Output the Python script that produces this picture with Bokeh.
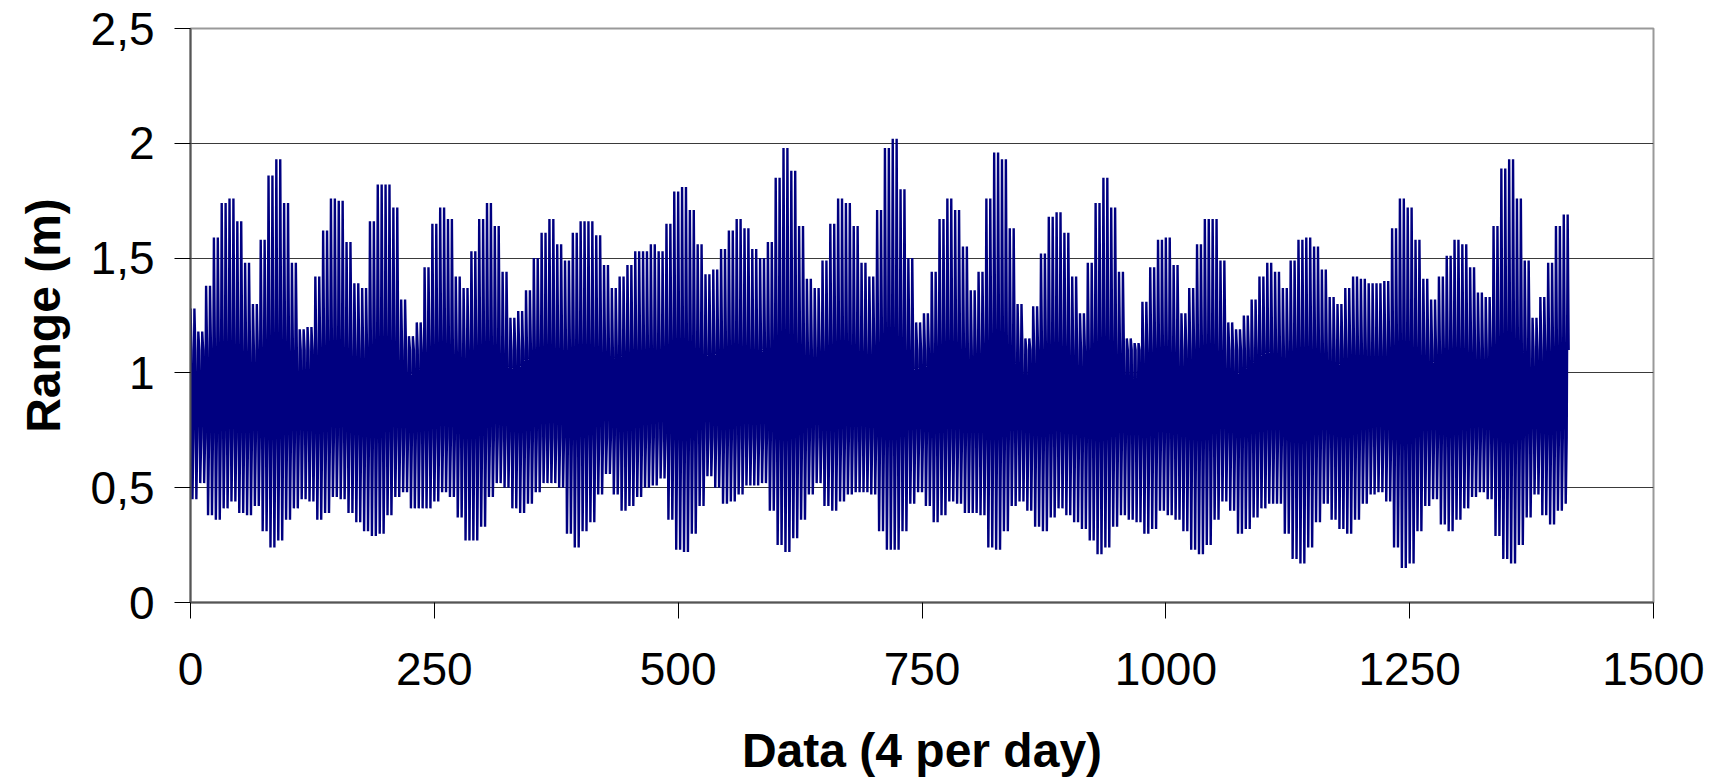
from bokeh.plotting import figure
from bokeh.models import FixedTicker, Range1d
from bokeh.embed import file_html
from bokeh.resources import INLINE

# Upper envelope (largest range) and lower envelope (smallest range), one value per 2-day block (8 data points)
upper = [
    1.28, 1.18, 1.38, 1.59, 1.74, 1.76, 1.66, 1.48, 1.30, 1.58,
    1.86, 1.93, 1.74, 1.48, 1.19, 1.20, 1.42, 1.62, 1.76, 1.75,
    1.57, 1.39, 1.37, 1.66, 1.82, 1.82, 1.72, 1.32, 1.16, 1.22,
    1.46, 1.65, 1.72, 1.67, 1.42, 1.37, 1.53, 1.67, 1.74, 1.64,
    1.44, 1.24, 1.27, 1.36, 1.50, 1.61, 1.67, 1.56, 1.49, 1.61,
    1.66, 1.66, 1.60, 1.47, 1.37, 1.42, 1.47, 1.53, 1.53, 1.56,
    1.53, 1.65, 1.79, 1.81, 1.71, 1.56, 1.43, 1.45, 1.54, 1.62,
    1.67, 1.63, 1.54, 1.50, 1.57, 1.85, 1.98, 1.88, 1.64, 1.41,
    1.37, 1.49, 1.65, 1.76, 1.74, 1.64, 1.48, 1.42, 1.71, 1.98,
    2.02, 1.80, 1.50, 1.22, 1.26, 1.44, 1.67, 1.76, 1.71, 1.55,
    1.36, 1.44, 1.76, 1.96, 1.93, 1.63, 1.30, 1.15, 1.29, 1.52,
    1.68, 1.70, 1.61, 1.42, 1.26, 1.48, 1.74, 1.85, 1.72, 1.44,
    1.15, 1.13, 1.31, 1.46, 1.58, 1.59, 1.47, 1.26, 1.37, 1.56,
    1.67, 1.67, 1.49, 1.22, 1.19, 1.25, 1.32, 1.42, 1.48, 1.44,
    1.37, 1.49, 1.58, 1.59, 1.55, 1.45, 1.33, 1.30, 1.37, 1.42,
    1.41, 1.39, 1.39, 1.40, 1.63, 1.76, 1.72, 1.58, 1.41, 1.32,
    1.42, 1.51, 1.58, 1.56, 1.46, 1.35, 1.33, 1.64, 1.89, 1.93,
    1.76, 1.49, 1.24, 1.33, 1.48, 1.64, 1.69,
]
lower = [
    0.45, 0.52, 0.38, 0.36, 0.41, 0.44, 0.39, 0.38, 0.42, 0.31,
    0.24, 0.27, 0.36, 0.41, 0.45, 0.44, 0.36, 0.39, 0.46, 0.45,
    0.39, 0.35, 0.31, 0.29, 0.30, 0.38, 0.46, 0.48, 0.41, 0.41,
    0.41, 0.44, 0.48, 0.46, 0.37, 0.27, 0.27, 0.33, 0.46, 0.52,
    0.50, 0.41, 0.39, 0.43, 0.48, 0.52, 0.52, 0.50, 0.30, 0.24,
    0.31, 0.35, 0.47, 0.56, 0.47, 0.40, 0.42, 0.46, 0.50, 0.51,
    0.54, 0.36, 0.23, 0.22, 0.30, 0.42, 0.55, 0.50, 0.43, 0.44,
    0.47, 0.51, 0.51, 0.52, 0.40, 0.25, 0.22, 0.28, 0.36, 0.47,
    0.52, 0.42, 0.40, 0.44, 0.47, 0.48, 0.48, 0.47, 0.31, 0.23,
    0.23, 0.31, 0.43, 0.48, 0.42, 0.35, 0.38, 0.44, 0.43, 0.39,
    0.39, 0.38, 0.24, 0.23, 0.31, 0.42, 0.44, 0.40, 0.33, 0.31,
    0.37, 0.41, 0.38, 0.35, 0.32, 0.27, 0.21, 0.24, 0.33, 0.38,
    0.36, 0.35, 0.30, 0.32, 0.40, 0.38, 0.36, 0.31, 0.23, 0.21,
    0.25, 0.36, 0.44, 0.40, 0.30, 0.32, 0.37, 0.41, 0.43, 0.43,
    0.30, 0.19, 0.17, 0.24, 0.35, 0.43, 0.36, 0.32, 0.30, 0.36,
    0.43, 0.47, 0.48, 0.44, 0.24, 0.15, 0.17, 0.31, 0.42, 0.45,
    0.34, 0.31, 0.36, 0.41, 0.46, 0.48, 0.45, 0.29, 0.19, 0.17,
    0.25, 0.37, 0.47, 0.38, 0.34, 0.40, 0.43,
]
# Typical intermediate ranges (the dense central band)
mid_upper = 1.10
mid_lower = 0.72
n_points = 1414

x_ticks = [0, 250, 500, 750, 1000, 1250, 1500]
y_ticks = [0, 0.5, 1, 1.5, 2, 2.5]
y_tick_labels = ["0", "0,5", "1", "1,5", "2", "2,5"]
x_title = "Data (4 per day)"
y_title = "Range (m)"

ranges = []
for u, l in zip(upper, lower):
    ranges += [u, mid_upper, l, mid_lower, u, mid_upper, l, mid_lower]
ranges = ranges[:n_points]
idx = list(range(len(ranges)))

FONT = "Liberation Sans"

p = figure(
    output_backend="svg", toolbar_location=None,
    frame_width=1463, frame_height=574,
    min_border_left=190, min_border_top=28, min_border_right=63, min_border_bottom=174,
    x_range=Range1d(0, 1500), y_range=Range1d(0, 2.5),
    background_fill_color="white", border_fill_color="white",
)
p.line(idx, ranges, line_color="#000080", line_width=2.4)

p.xgrid.visible = False
p.ygrid.ticker = FixedTicker(ticks=[0.5, 1, 1.5, 2])
p.ygrid.grid_line_color = "#3a3a3a"
p.ygrid.grid_line_width = 1

p.outline_line_color = "#999999"
p.outline_line_width = 2

p.xaxis.ticker = FixedTicker(ticks=x_ticks)
p.yaxis.ticker = FixedTicker(ticks=y_ticks)
p.yaxis.major_label_overrides = {t: s for t, s in zip(y_ticks, y_tick_labels)}

for ax in (p.xaxis[0], p.yaxis[0]):
    ax.major_label_text_font = FONT
    ax.major_label_text_font_size = "46px"
    ax.major_label_text_color = "black"
    ax.axis_label_text_font = FONT
    ax.axis_label_text_font_style = "bold"
    ax.axis_label_text_font_size = "48px"
    ax.axis_label_text_color = "black"
    ax.axis_line_color = "#555555"
    ax.axis_line_width = 2
    ax.major_tick_line_color = "black"
    ax.major_tick_line_width = 1
    ax.major_tick_in = 0
    ax.major_tick_out = 16
    ax.minor_tick_line_color = None

p.xaxis.axis_label = x_title
p.yaxis.axis_label = y_title
p.xaxis.major_label_standoff = 34
p.yaxis.major_label_standoff = 20
p.xaxis.axis_label_standoff = 36
p.yaxis.axis_label_standoff = 18

open("out.html", "w").write(file_html(p, INLINE))
